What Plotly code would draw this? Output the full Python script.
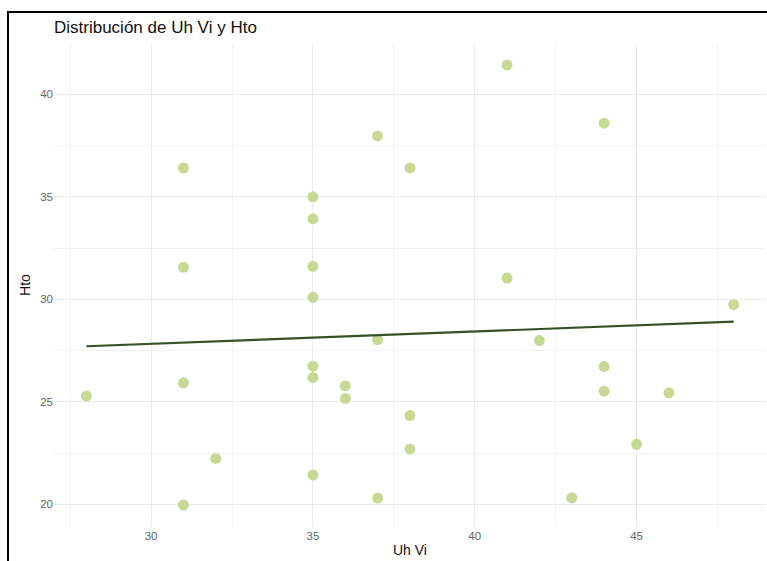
import numpy as np
import plotly.graph_objects as go

# Observaciones: Uh Vi (x) y Hto (y)
uh_vi = [28, 31, 31, 31, 31, 32, 35, 35, 35, 35, 35, 35, 35, 36, 36, 37,
         37, 37, 38, 38, 38, 41, 41, 42, 43, 44, 44, 44, 45, 46, 48]
hto = [25.29, 36.41, 31.56, 25.93, 19.97, 22.24, 35.00, 33.93, 31.61, 30.10,
       26.74, 26.19, 21.43, 25.78, 25.17, 37.97, 28.04, 20.31, 36.41, 24.33,
       22.69, 41.43, 31.04, 27.99, 20.32, 38.59, 26.72, 25.52, 22.93, 25.44,
       29.74]

x_ticks = [30, 35, 40, 45]
y_ticks = [20, 25, 30, 35, 40]

# Ajuste lineal (mínimos cuadrados)
slope, intercept = np.polyfit(uh_vi, hto, 1)
x_fit = np.linspace(min(uh_vi), max(uh_vi), 80)
y_fit = intercept + slope * x_fit

FONT = "Liberation Sans, Arial, sans-serif"
W, H = 767, 561
ML, MR, MT, MB = 54, 1, 43, 34
pw, ph = W - ML - MR, H - MT - MB

def px_to_paper_x(px):
    return (px - ML) / pw

def px_to_paper_y(py):
    return (H - MB - py) / ph

xr = max(uh_vi) - min(uh_vi)
yr = max(hto) - min(hto)

fig = go.Figure()
fig.add_trace(go.Scatter(
    x=uh_vi, y=hto, mode="markers",
    marker=dict(size=11, color="#c9d994", line=dict(width=0)),
    hoverinfo="x+y", showlegend=False,
))
fig.add_trace(go.Scatter(
    x=x_fit, y=y_fit, mode="lines",
    line=dict(color="#3a4f28", width=2.2),
    hoverinfo="skip", showlegend=False,
))

grid_major = "#ebebeb"
fig.update_xaxes(
    range=[min(uh_vi) - 0.05 * xr, max(uh_vi) + 0.05 * xr],
    tickvals=x_ticks, ticktext=[str(v) for v in x_ticks],
    showgrid=True, gridcolor=grid_major, gridwidth=1.3,
    minor=dict(dtick=2.5, tick0=0, showgrid=True, gridcolor="#f2f2f2", gridwidth=0.8),
    zeroline=False, showline=False, ticks="",
    tickfont=dict(family=FONT, size=11.5, color="#666666"),
    title=dict(text="Uh Vi", font=dict(family=FONT, size=14, color="#111111"), standoff=4),
)
fig.update_yaxes(
    range=[min(hto) - 0.05 * yr, max(hto) + 0.05 * yr],
    tickvals=y_ticks, ticktext=[str(v) for v in y_ticks],
    showgrid=True, gridcolor=grid_major, gridwidth=1.3,
    minor=dict(dtick=2.5, tick0=0, showgrid=True, gridcolor="#f2f2f2", gridwidth=0.8),
    zeroline=False, showline=False, ticks="",
    tickfont=dict(family=FONT, size=11.5, color="#666666"),
    title=dict(text="Hto", font=dict(family=FONT, size=14, color="#111111"), standoff=6),
)

fig.update_layout(
    width=W, height=H,
    margin=dict(l=ML, r=MR, t=MT, b=MB),
    paper_bgcolor="white", plot_bgcolor="white",
    font=dict(family=FONT),
    annotations=[dict(
        text="Distribución de Uh Vi y Hto", showarrow=False,
        xref="paper", yref="paper",
        x=px_to_paper_x(52), y=px_to_paper_y(27),
        xanchor="left", yanchor="middle",
        font=dict(family=FONT, size=17, color="#111111"),
    )],
    shapes=[
        dict(type="line", xref="paper", yref="paper", layer="above",
             x0=px_to_paper_x(7), x1=px_to_paper_x(W + 2),
             y0=px_to_paper_y(12), y1=px_to_paper_y(12),
             line=dict(color="black", width=2)),
        dict(type="line", xref="paper", yref="paper", layer="above",
             x0=px_to_paper_x(8), x1=px_to_paper_x(8),
             y0=px_to_paper_y(11), y1=px_to_paper_y(H + 2),
             line=dict(color="black", width=2)),
    ],
)

fig.write_html("out.html")
